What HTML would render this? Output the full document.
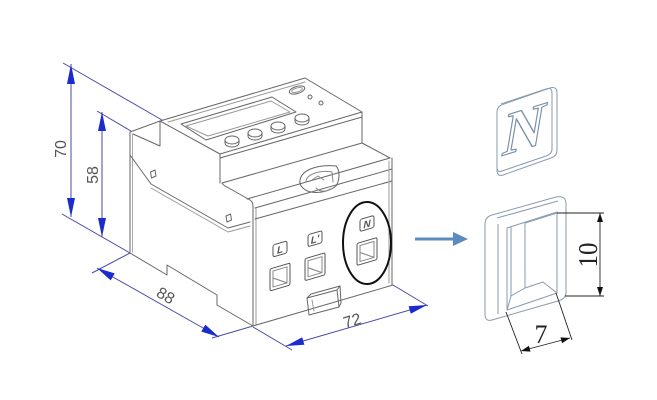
<!DOCTYPE html>
<html><head><meta charset="utf-8"><style>
html,body{margin:0;padding:0;background:#fff;}
svg{display:block;}
</style></head><body>
<svg width="657" height="400" viewBox="0 0 657 400" xmlns="http://www.w3.org/2000/svg">
<rect width="657" height="400" fill="#fff"/>

<!-- ===== Left dimension lines (blue) ===== -->
<g stroke="#4a4aa8" stroke-width="1" fill="none">
  <line x1="63" y1="63" x2="162" y2="120"/>
  <line x1="97" y1="111" x2="131" y2="131"/>
  <line x1="62" y1="214" x2="130" y2="253"/>
  <line x1="71" y1="64" x2="71" y2="217"/>
  <line x1="102" y1="112" x2="102" y2="237"/>
  <line x1="92" y1="273" x2="130" y2="253"/>
  <line x1="253" y1="326" x2="212" y2="338"/>
  <line x1="97" y1="268" x2="219" y2="337"/>
  <line x1="253" y1="327" x2="292" y2="350"/>
  <line x1="393" y1="285" x2="428" y2="306"/>
  <line x1="286" y1="346" x2="427" y2="305"/>
</g>
<g fill="#1c2ccc" stroke="none">
  <polygon points="71,64 67,84 75,84"/>
  <polygon points="71,217 67,198 75,198"/>
  <polygon points="102,112 98,131 106,131"/>
  <polygon points="102,237 98,218 106,218"/>
  <polygon points="97,268 110.7,280.4 114.7,273.4"/>
  <polygon points="219,337 201.3,331.6 205.3,324.6"/>
  <polygon points="286,346 304.4,344.8 302.2,337.2"/>
  <polygon points="427,305 410.8,313.8 408.6,306.2"/>
</g>
<g font-family="Liberation Sans, sans-serif" font-size="16" fill="#555">
  <text transform="translate(66,149) rotate(-90)" text-anchor="middle">70</text>
  <text transform="translate(98,175) rotate(-90)" text-anchor="middle">58</text>
  <text transform="translate(166,295) rotate(30)" text-anchor="middle" dy="6">88</text>
  <text transform="translate(352,320) rotate(-16)" text-anchor="middle" dy="6">72</text>
</g>

<!-- ===== Device ===== -->
<g fill="none" stroke="#666" stroke-width="1" stroke-linejoin="round" stroke-linecap="round">
  <path d="M130,132 L130,253"/>
  <path d="M132.5,134 L132.5,252" stroke="#aaa"/>
  <path d="M130,132 L160,121 L160,146 L133,134"/>
  <path d="M160,121 L305,78 L362,112 L220,154 Z"/>
  <path d="M220,158 L362,117" />
  <path d="M168,122 L305,82" stroke="#999"/>
  <path d="M181,124 L272,97 L296,112 L206,140 Z"/>
  <path d="M186,126 L271,101 L290,112 L208,136 Z" stroke="#999"/>
  <g>
    <path d="M225,140 L225,143 A7,4 0 0 0 239,143 L239,140"/>
    <ellipse cx="232" cy="140" rx="7" ry="4"/>
    <path d="M248,133 L248,136 A7,4 0 0 0 262,136 L262,133"/>
    <ellipse cx="255" cy="133" rx="7" ry="4"/>
    <path d="M271,126 L271,129 A7,4 0 0 0 285,129 L285,126"/>
    <ellipse cx="278" cy="126" rx="7" ry="4"/>
    <path d="M295,118 L295,121 A7,4 0 0 0 309,121 L309,118"/>
    <ellipse cx="302" cy="118" rx="7" ry="4"/>
  </g>
  <ellipse cx="297" cy="90" rx="8" ry="3.5" transform="rotate(-17 297 90)"/>
  <ellipse cx="297" cy="90" rx="5.5" ry="2" transform="rotate(-17 297 90)" stroke="#999"/>
  <circle cx="310" cy="97" r="2"/>
  <circle cx="321" cy="103" r="2"/>
  <path d="M220,154 L220,183 M362,112 L362,143 M222,183 L362,143"/>
  <path d="M130,155 L151,184 L228,228 L250,222"/>
  <path d="M151,188 L228,232 L250,226" stroke="#999"/>
  <path d="M150.5,172 L155,170 L156,176 L151.5,178 Z"/>
  <path d="M226,216 L230.5,214 L231.5,220 L227,222 Z"/>
  <path d="M222,183 Q224,186 227,187 L250,200 Q253,202 253,206 L253,326"/>
  <path d="M256,208 L256,325" stroke="#999"/>
  <path d="M130,253 L167,275 L167,265 L217,295 L217,305 L253,326"/>
  <path d="M247,199 L390,158"/>
  <path d="M255,208 L392,169"/>
  <path d="M255,219 L392,181"/>
  <path d="M362,143 L390,158"/>
  <path d="M392,158 L392,285"/>
  <path d="M389,161 L389,283" stroke="#999"/>
  <path d="M253,326 L393,285"/>
  <path d="M300,184 C298,170 318,164 336,166 C340,170 340,180 336,186 C326,194 306,196 300,184 Z"/>
  <path d="M306,182 C306,174 320,170 332,172 L333,182" stroke="#888"/>
  <path d="M312,180 L318,176 L324,180 M316,188 C320,192 326,192 330,189" stroke="#888"/>
  <path d="M307,298 L337,290 L339,307 L309,315 Z"/>
  <path d="M307,298 L311,294 L340,286 L337,290 M340,286 L341,303 L339,307"/>
  <path d="M312,300 L314,311" stroke="#999"/>
</g>

<g transform="matrix(1,-0.293,0,1,0,0)" fill="none" stroke="#555" stroke-width="1">
  <g>
    <rect x="270" y="348" width="20" height="22" rx="1.5"/>
    <rect x="273" y="351" width="14" height="16" stroke="#888"/>
    <path d="M273,358 L287,367" stroke="#888"/>
    <rect x="305" y="348" width="20" height="22" rx="1.5"/>
    <rect x="308" y="351" width="14" height="16" stroke="#888"/>
    <path d="M308,358 L322,367" stroke="#888"/>
    <rect x="357" y="348" width="20" height="22" rx="1.5"/>
    <rect x="360" y="351" width="14" height="16" stroke="#888"/>
    <path d="M360,358 L374,367" stroke="#888"/>
  </g>
  <rect x="273" y="325" width="14" height="12" rx="2"/>
  <rect x="308" y="325" width="14" height="12" rx="2"/>
  <rect x="360" y="325" width="14" height="12" rx="2"/>
  <g font-family="Liberation Sans, sans-serif" font-style="italic" font-weight="bold" font-size="10" fill="#555" stroke="none" text-anchor="middle">
    <text x="280" y="335">L</text>
    <text x="315" y="335">L'</text>
    <text x="367" y="335">N</text>
  </g>
</g>
<ellipse cx="367" cy="243" rx="24" ry="41" fill="none" stroke="#111" stroke-width="2"/>

<line x1="415" y1="239" x2="455" y2="239" stroke="#5b8bbf" stroke-width="3"/>
<polygon points="453,232 468,239 453,246" fill="#5b8bbf"/>

<g fill="none" stroke="#8a9ab0" stroke-width="1" stroke-linejoin="round">
  <path d="M504,104 L550,88 Q557,86 557,93 L557,150 Q557,156 551,158 L503,175 Q497,177 497,170 L497,112 Q497,106 504,104 Z"/>
  <path d="M501,104 L546,89 Q552,87 552,93 L552,149 Q552,154 546,156 L502,171 Q497,173 497,167"/>
  <text transform="translate(524,129) skewY(-17)" x="0" y="20" font-family="Liberation Serif, serif" font-style="italic" font-weight="bold" font-size="60" text-anchor="middle" fill="#fff" stroke="#7a8fa8" stroke-width="1.2">N</text>
</g>

<g fill="none" stroke="#8a9ab0" stroke-width="1" stroke-linejoin="round">
  <path d="M492,215 L556,197 Q566,195 566,204 L566,292 Q566,299 558,301 L492,320 Q485,322 485,314 L485,224 Q485,217 492,215 Z"/>
  <path d="M497,218 L558,201 M498,224 L498,314" />
  <path d="M507,228 L557,212 L557,293 L507,310 Z"/>
  <path d="M511,227 L511,296 M525,223 L525,288 M525,223 L557,213"/>
  <path d="M511,296 L525,288 L543,282 L557,293" />
  <path d="M507,310 L511,296"/>
</g>

<g stroke="#222" stroke-width="0.9" fill="none">
  <line x1="557" y1="213" x2="604" y2="213"/>
  <line x1="565" y1="296" x2="604" y2="296"/>
  <line x1="600" y1="213" x2="600" y2="296"/>
  <line x1="506" y1="312" x2="522" y2="354"/>
  <line x1="556" y1="293" x2="572" y2="340"/>
  <line x1="521" y1="351" x2="570" y2="338"/>
</g>
<g fill="#111">
  <polygon points="600,213 597,222 603,222"/>
  <polygon points="600,296 597,287 603,287"/>
  <polygon points="521,351 530.5,351.6 528.9,345.8"/>
  <polygon points="570,338 562.1,343.2 560.5,337.4"/>
</g>
<g font-family="Liberation Serif, serif" fill="#222">
  <text transform="translate(597,255) rotate(-90)" text-anchor="middle" font-size="27" textLength="25" lengthAdjust="spacingAndGlyphs">10</text>
  <text x="541" y="343" text-anchor="middle" font-size="26">7</text>
</g>
</svg>
</body></html>
